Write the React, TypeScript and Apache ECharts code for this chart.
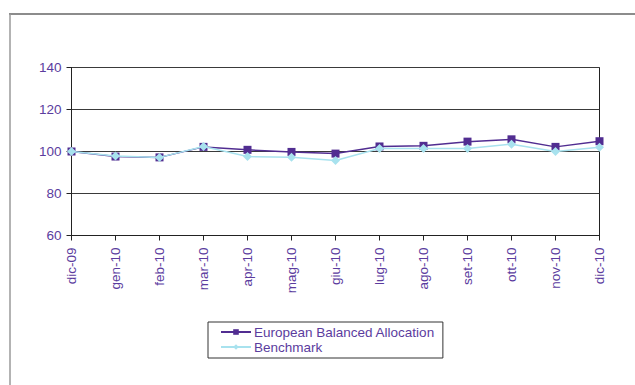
import React, { useEffect, useRef } from "react";
import * as echarts from "echarts";

const categories = [
  "dic-09", "gen-10", "feb-10", "mar-10", "apr-10", "mag-10", "giu-10",
  "lug-10", "ago-10", "set-10", "ott-10", "nov-10", "dic-10",
];
const fundValues = [100, 97.6, 97.2, 102.2, 100.8, 99.8, 99.0, 102.4, 102.7, 104.7, 105.8, 102.2, 104.9];
const benchmarkValues = [100, 97.8, 97.2, 102.4, 97.6, 97.3, 95.7, 101.4, 101.4, 101.4, 103.5, 100.0, 102.0];
const seriesNames = ["European Balanced Allocation", "Benchmark"];

const TEXT = "#5b3c9e";
const FONT = "'Liberation Sans', Arial, sans-serif";

export default function App() {
  const ref = useRef<HTMLDivElement>(null);
  useEffect(() => {
    if (!ref.current) return;
    const chart = echarts.init(ref.current, undefined, { renderer: "svg" });
    chart.setOption({
      animation: false,
      backgroundColor: "#ffffff",
      textStyle: { fontFamily: FONT },
      grid: {
        left: 71.5,
        right: 35.5,
        top: 67.5,
        bottom: 149.5,
        show: true,
        borderColor: "#222",
        borderWidth: 1,
        backgroundColor: "transparent",
      },
      xAxis: {
        type: "category",
        data: categories,
        boundaryGap: false,
        axisLine: { lineStyle: { color: "#222", width: 1 } },
        axisTick: { show: true, length: 5, lineStyle: { color: "#222" } },
        axisLabel: {
          rotate: 90,
          color: TEXT,
          fontSize: 13.5,
          fontFamily: FONT,
          margin: 12,
          interval: 0,
        },
        splitLine: { show: false },
      },
      yAxis: {
        type: "value",
        min: 60,
        max: 140,
        interval: 20,
        axisLine: { show: true, lineStyle: { color: "#222", width: 1 } },
        axisTick: { show: true, length: 5, lineStyle: { color: "#222" } },
        axisLabel: { color: TEXT, fontSize: 13.5, fontFamily: FONT, margin: 10 },
        splitLine: { show: true, lineStyle: { color: "#3a3a3a", width: 1 } },
      },
      legend: {
        orient: "vertical",
        left: 208,
        top: 322,
        padding: [3, 8, 4, 12],
        itemWidth: 30,
        itemHeight: 7,
        itemGap: 1,
        borderColor: "#333",
        borderWidth: 1,
        textStyle: { color: TEXT, fontSize: 13.5, fontFamily: FONT, padding: [0, 0, 0, -2] },
        data: seriesNames,
      },
      graphic: [
        { type: "line", shape: { x1: 9, y1: 14, x2: 635, y2: 14 }, style: { stroke: "#8c8c8c", lineWidth: 2 } },
        { type: "line", shape: { x1: 10, y1: 14, x2: 10, y2: 385 }, style: { stroke: "#9a9a9a", lineWidth: 1.5 } },
      ],
      series: [
        {
          name: seriesNames[0],
          type: "line",
          data: fundValues,
          symbol: "rect",
          symbolSize: 8,
          lineStyle: { color: "#512d91", width: 1.5 },
          itemStyle: { color: "#512d91" },
          z: 3,
        },
        {
          name: seriesNames[1],
          type: "line",
          data: benchmarkValues,
          symbol: "diamond",
          symbolSize: 9,
          lineStyle: { color: "#a8e2ee", width: 1.5 },
          itemStyle: { color: "#a8e2ee" },
          z: 4,
        },
      ],
    });
    return () => chart.dispose();
  }, []);
  return (
    <div
      ref={ref}
      style={{ position: "fixed", left: 0, top: 0, width: 635, height: 385, background: "#fff" }}
    />
  );
}
